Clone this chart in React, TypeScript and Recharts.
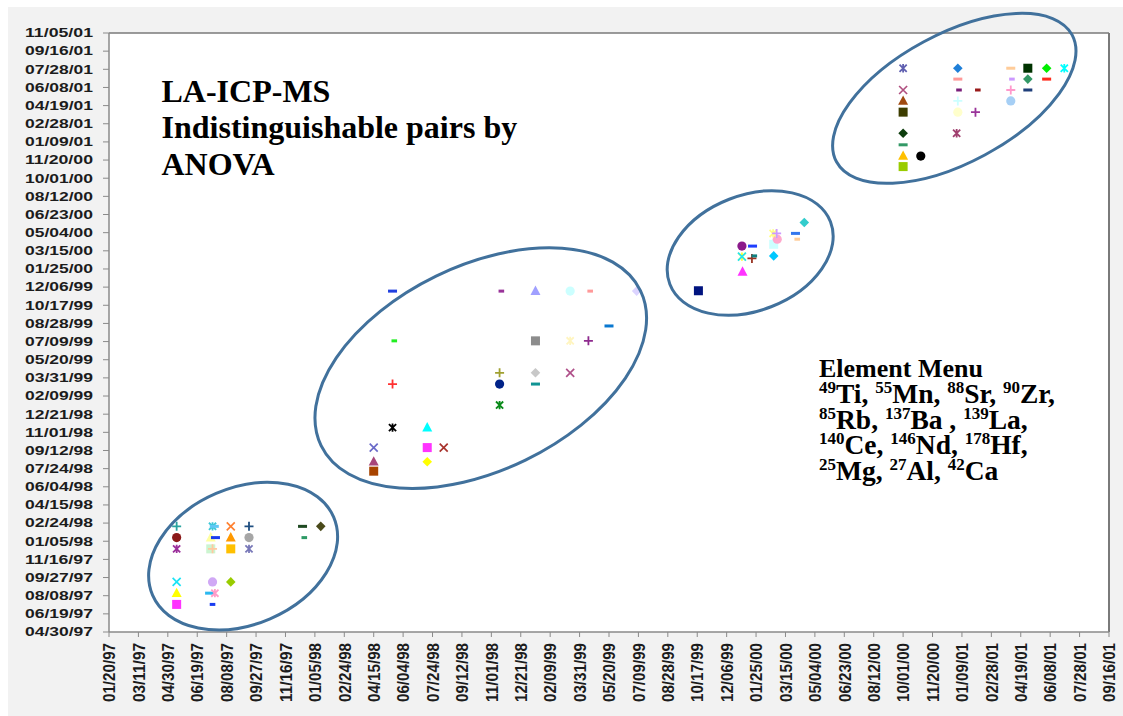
import React from "react";
import {
  ScatterChart,
  Scatter,
  XAxis,
  YAxis,
  CartesianGrid,
  ReferenceDot,
  ReferenceLine,
} from "recharts";

type Marker = "square" | "diamond" | "triangle" | "circle" | "x" | "star" | "plus" | "dash" | "minus";

// Axis tick labels (50-day steps)
const xTickLabels = [
  "01/20/97", "03/11/97", "04/30/97", "06/19/97", "08/08/97", "09/27/97", "11/16/97",
  "01/05/98", "02/24/98", "04/15/98", "06/04/98", "07/24/98", "09/12/98", "11/01/98",
  "12/21/98", "02/09/99", "03/31/99", "05/20/99", "07/09/99", "08/28/99", "10/17/99",
  "12/06/99", "01/25/00", "03/15/00", "05/04/00", "06/23/00", "08/12/00", "10/01/00",
  "11/20/00", "01/09/01", "02/28/01", "04/19/01", "06/08/01", "07/28/01", "09/16/01",
];
const yTickLabels = [
  "04/30/97", "06/19/97", "08/08/97", "09/27/97", "11/16/97", "01/05/98", "02/24/98",
  "04/15/98", "06/04/98", "07/24/98", "09/12/98", "11/01/98", "12/21/98", "02/09/99",
  "03/31/99", "05/20/99", "07/09/99", "08/28/99", "10/17/99", "12/06/99", "01/25/00",
  "03/15/00", "05/04/00", "06/23/00", "08/12/00", "10/01/00", "11/20/00", "01/09/01",
  "02/28/01", "04/19/01", "06/08/01", "07/28/01", "09/16/01", "11/05/01",
];

// Indistinguishable sample pairs: [sample A date, sample B date]
const pairs1997: [string, string][] = [
  ["05/15/97", "02/15/98"], ["05/15/97", "01/15/98"], ["05/15/97", "12/15/97"],
  ["05/15/97", "09/15/97"], ["05/15/97", "08/15/97"], ["05/15/97", "07/15/97"],
  ["07/15/97", "02/15/98"], ["07/18/97", "02/15/98"], ["07/12/97", "01/15/98"],
  ["07/20/97", "01/15/98"], ["07/12/97", "12/15/97"], ["07/15/97", "12/15/97"],
  ["07/15/97", "09/15/97"], ["07/10/97", "08/15/97"], ["07/19/97", "08/15/97"],
  ["07/15/97", "07/15/97"], ["08/15/97", "02/15/98"], ["08/15/97", "01/15/98"],
  ["08/15/97", "12/15/97"], ["08/15/97", "09/15/97"], ["09/15/97", "02/15/98"],
  ["09/15/97", "01/15/98"], ["09/15/97", "12/15/97"], ["12/15/97", "02/15/98"],
  ["12/18/97", "01/15/98"], ["01/15/98", "02/15/98"],
];
const pairs1998: [string, string][] = [
  ["05/17/98", "11/25/99"], ["11/18/98", "11/25/99"], ["01/15/99", "11/25/99"],
  ["03/15/99", "11/25/99"], ["04/18/99", "11/25/99"], ["07/06/99", "11/25/99"],
  ["05/20/99", "08/21/99"], ["05/20/98", "07/11/99"], ["01/15/99", "07/11/99"],
  ["03/15/99", "07/11/99"], ["04/15/99", "07/11/99"], ["05/17/98", "03/14/99"],
  ["11/15/98", "04/14/99"], ["01/15/99", "04/14/99"], ["03/15/99", "04/14/99"],
  ["11/15/98", "03/14/99"], ["01/15/99", "03/14/99"], ["11/15/98", "01/15/99"],
  ["05/17/98", "11/14/98"], ["07/15/98", "11/14/98"], ["04/15/98", "09/20/98"],
  ["07/15/98", "09/20/98"], ["08/12/98", "09/20/98"], ["04/15/98", "08/12/98"],
  ["07/15/98", "08/12/98"], ["04/15/98", "07/17/98"],
];
const pairs1999: [string, string][] = [
  ["10/19/99", "11/26/99"], ["01/02/00", "01/17/00"], ["01/01/00", "02/28/00"],
  ["01/01/00", "02/28/00"], ["01/18/00", "02/23/00"], ["01/22/00", "03/01/00"],
  ["01/01/00", "03/28/00"], ["01/19/00", "03/28/00"], ["02/24/00", "03/01/00"],
  ["02/24/00", "04/02/00"], ["03/01/00", "04/16/00"], ["02/23/00", "05/02/00"],
  ["02/29/00", "05/02/00"], ["04/01/00", "05/02/00"], ["04/04/00", "04/16/00"],
  ["04/16/00", "06/01/00"],
];
const pairs2000: [string, string][] = [
  ["10/01/00", "07/31/01"], ["01/02/01", "07/31/01"], ["04/02/01", "07/31/01"],
  ["05/01/01", "07/31/01"], ["06/02/01", "07/31/01"], ["07/02/01", "07/31/01"],
  ["01/02/01", "07/01/01"], ["04/04/01", "07/01/01"], ["05/01/01", "07/01/01"],
  ["06/02/01", "07/01/01"], ["10/01/00", "06/01/01"], ["01/04/01", "06/01/01"],
  ["02/05/01", "06/01/01"], ["04/02/01", "06/01/01"], ["05/01/01", "06/01/01"],
  ["10/01/00", "05/02/01"], ["01/02/01", "05/02/01"], ["04/02/01", "05/02/01"],
  ["10/01/00", "04/01/01"], ["01/02/01", "04/01/01"], ["02/01/01", "04/01/01"],
  ["10/01/00", "02/02/01"], ["12/31/00", "02/02/01"], ["10/01/00", "01/01/01"],
  ["10/01/00", "12/01/00"], ["10/31/00", "12/01/00"], ["10/01/00", "11/02/00"],
];

// Marker symbol and colour for each pair, in the same order
const markers1997: [Marker, string][] = [
  ["plus", "#2aa3a0"], ["circle", "#8b1a1a"], ["star", "#9b2f9b"],
  ["x", "#19e3f5"], ["triangle", "#ffff00"], ["square", "#ff33ff"],
  ["star", "#3cc8d8"], ["dash", "#5fc8f5"], ["triangle", "#ffffa0"],
  ["dash", "#1a3cf0"], ["square", "#ccf5d0"], ["plus", "#ffc8a0"],
  ["circle", "#d0a8f5"], ["dash", "#2ab8f0"], ["star", "#ff9cc8"],
  ["minus", "#1a3cf0"], ["x", "#ff8030"], ["triangle", "#ff9900"],
  ["square", "#ffc000"], ["diamond", "#99cc00"], ["plus", "#1f4e80"],
  ["circle", "#a6a6a6"], ["star", "#7878b8"], ["dash", "#1f4a22"],
  ["minus", "#2e9a66"], ["diamond", "#4a4a1a"],
];
const markers1998: [Marker, string][] = [
  ["dash", "#1f3fe0"], ["minus", "#993399"], ["triangle", "#a0a0ff"],
  ["circle", "#ccffff"], ["minus", "#ff9999"], ["diamond", "#dcd4ff"],
  ["dash", "#0a78d0"], ["minus", "#22ee22"], ["square", "#8c8c8c"],
  ["star", "#fff5c0"], ["plus", "#8e2a8e"], ["plus", "#ff3030"],
  ["plus", "#a0a030"], ["diamond", "#c8c8c8"], ["x", "#b0508a"],
  ["circle", "#002288"], ["dash", "#109494"], ["star", "#0a8a1a"],
  ["star", "#000000"], ["triangle", "#00ffff"], ["x", "#6a6ac8"],
  ["square", "#ff33ff"], ["x", "#a8332d"], ["triangle", "#a8457a"],
  ["diamond", "#ffff00"], ["square", "#a84400"],
];
const markers1999: [Marker, string][] = [
  ["square", "#00137f"], ["triangle", "#ff33ff"], ["star", "#ffff33"],
  ["x", "#22e5f0"], ["plus", "#993322"], ["minus", "#108080"],
  ["circle", "#8b1a8b"], ["dash", "#1f3fff"], ["diamond", "#00c8ff"],
  ["square", "#ccffff"], ["circle", "#ffa8cc"], ["star", "#ffff88"],
  ["plus", "#cc99ff"], ["dash", "#3377ee"], ["minus", "#ffcc99"],
  ["diamond", "#33cccc"],
];
const markers2000: [Marker, string][] = [
  ["star", "#5f5fb0"], ["diamond", "#1f7fd8"], ["dash", "#ffcc99"],
  ["square", "#003300"], ["diamond", "#00ee00"], ["star", "#00ffff"],
  ["dash", "#ff9999"], ["minus", "#cc99ff"], ["diamond", "#339966"],
  ["dash", "#ff2a1a"], ["x", "#b05080"], ["minus", "#7a1f7a"],
  ["minus", "#991a1a"], ["plus", "#ff99cc"], ["dash", "#1f3f7a"],
  ["triangle", "#a04a10"], ["plus", "#ccffff"], ["circle", "#a6cff5"],
  ["square", "#3d3d00"], ["circle", "#ffffcc"], ["plus", "#993399"],
  ["diamond", "#0d3d0d"], ["star", "#a0406f"], ["dash", "#339966"],
  ["triangle", "#ffc000"], ["circle", "#000000"], ["square", "#99cc00"],
];

// Centres of the grouping rings (dates) and their outline geometry
const ringCentres: [string, string][] = [
  ["09/05/97", "11/25/97"],
  ["10/14/98", "04/27/99"],
  ["01/15/00", "03/09/00"],
  ["12/27/00", "05/09/01"],
];
const ringGeometry = [
  { rx: 98.6, ry: 68.2, tilt: 23.3 },
  { rx: 177.5, ry: 102.3, tilt: 25.9 },
  { rx: 86.2, ry: 57.7, tilt: 21.3 },
  { rx: 133.8, ry: 64.3, tilt: 28.3 },
];

// Element list text: [mass number, symbol, trailing text]
const elementLines: [string, string, string][][] = [
  [["49", "Ti", ", "], ["55", "Mn", ", "], ["88", "Sr", ", "], ["90", "Zr", ","]],
  [["85", "Rb", ", "], ["137", "Ba", " , "], ["139", "La", ","]],
  [["140", "Ce", ", "], ["146", "Nd", ", "], ["178", "Hf", ","]],
  [["25", "Mg", ", "], ["27", "Al", ", "], ["42", "Ca", ""]],
];

const DAY0 = Date.UTC(1997, 0, 20);
function dayOf(s: string): number {
  const [m, d, y] = s.split("/").map(Number);
  const year = y < 50 ? 2000 + y : 1900 + y;
  return Math.round((Date.UTC(year, m - 1, d) - DAY0) / 86400000);
}

const xTicks = xTickLabels.map(dayOf);
const yTicks = yTickLabels.map(dayOf);
const xLabelOf = new Map(xTickLabels.map((l) => [dayOf(l), l] as [number, string]));
const yLabelOf = new Map(yTickLabels.map((l) => [dayOf(l), l] as [number, string]));

function buildSeries(pairs: [string, string][], markers: [Marker, string][]) {
  return pairs.map(([a, b], i) => ({
    x: dayOf(a),
    y: dayOf(b),
    marker: markers[i][0],
    color: markers[i][1],
  }));
}

const groups = [
  buildSeries(pairs1997, markers1997),
  buildSeries(pairs1998, markers1998),
  buildSeries(pairs1999, markers1999),
  buildSeries(pairs2000, markers2000),
];

function drawMarker(props: any) {
  const { cx, cy, payload } = props;
  if (cx == null || cy == null) return <g />;
  const c = payload.color as string;
  switch (payload.marker as Marker) {
    case "square":
      return <rect x={cx - 4.5} y={cy - 4.5} width={9} height={9} fill={c} />;
    case "circle":
      return <circle cx={cx} cy={cy} r={4.6} fill={c} />;
    case "triangle":
      return <polygon points={`${cx},${cy - 5.5} ${cx + 5},${cy + 3.8} ${cx - 5},${cy + 3.8}`} fill={c} />;
    case "diamond":
      return <polygon points={`${cx},${cy - 4.8} ${cx + 4.8},${cy} ${cx},${cy + 4.8} ${cx - 4.8},${cy}`} fill={c} />;
    case "x":
      return (
        <path
          d={`M${cx - 4},${cy - 4}L${cx + 4},${cy + 4}M${cx + 4},${cy - 4}L${cx - 4},${cy + 4}`}
          stroke={c}
          strokeWidth={1.7}
          fill="none"
        />
      );
    case "star":
      return (
        <path
          d={`M${cx - 3.6},${cy - 3.6}L${cx + 3.6},${cy + 3.6}M${cx + 3.6},${cy - 3.6}L${cx - 3.6},${cy + 3.6}M${cx},${cy - 4.2}L${cx},${cy + 4.2}`}
          stroke={c}
          strokeWidth={1.8}
          fill="none"
        />
      );
    case "plus":
      return (
        <path
          d={`M${cx - 4.5},${cy}L${cx + 4.5},${cy}M${cx},${cy - 4.5}L${cx},${cy + 4.5}`}
          stroke={c}
          strokeWidth={1.8}
          fill="none"
        />
      );
    case "dash":
      return <rect x={cx - 4.5} y={cy - 1.5} width={9} height={3} fill={c} />;
    case "minus":
      return <rect x={cx - 2.8} y={cy - 1.5} width={5.6} height={3} fill={c} />;
    default:
      return <g />;
  }
}

const TICK_FONT = "'Liberation Sans', Arial, Helvetica, sans-serif";
const SERIF = "'Liberation Serif', 'Times New Roman', Times, serif";

function XTick(props: any) {
  const { x, y, payload } = props;
  const label = xLabelOf.get(payload.value) ?? "";
  return (
    <text
      x={x + 0.5}
      y={y}
      dx={-6}
      dy="0.36em"
      transform={`rotate(-90 ${x + 0.5} ${y})`}
      textAnchor="end"
      fontFamily={TICK_FONT}
      fontWeight="bold"
      fontSize={16}
      fill="#1c1c1c"
      textLength={59}
      lengthAdjust="spacingAndGlyphs"
    >
      {label}
    </text>
  );
}

function YTick(props: any) {
  const { x, y, payload } = props;
  const label = yLabelOf.get(payload.value) ?? "";
  return (
    <text
      x={x - 10}
      y={y}
      dy="0.36em"
      textAnchor="end"
      fontFamily={TICK_FONT}
      fontWeight="bold"
      fontSize={12}
      fill="#1c1c1c"
      textLength={68}
      lengthAdjust="spacingAndGlyphs"
    >
      {label}
    </text>
  );
}

function ElementLine({ y, items }: { y: number; items: [string, string, string][] }) {
  const parts: React.ReactNode[] = [];
  items.forEach(([mass, sym, tail], i) => {
    parts.push(
      <tspan key={`m${i}`} fontSize={17} dy={-10}>
        {mass}
      </tspan>
    );
    parts.push(
      <tspan key={`s${i}`} fontSize={27.5} dy={10}>
        {sym + tail}
      </tspan>
    );
  });
  return (
    <text x={819} y={y} fontFamily={SERIF} fontWeight="bold" fill="#000" style={{ whiteSpace: "pre" }}>
      {parts}
    </text>
  );
}

export default function App() {
  return (
    <div style={{ position: "relative", width: 1123, height: 716, background: "#ffffff", overflow: "hidden" }}>
      <style>{"html,body{margin:0;padding:0;overflow:hidden;}"}</style>
      <div style={{ position: "absolute", left: 8, top: 7, width: 1115, height: 709, background: "#f2f2f2" }} />
      <div style={{ position: "absolute", left: 0, top: 0 }}>
        <ScatterChart width={1123} height={716} margin={{ top: 33, right: 14, bottom: 4, left: 9 }}>
          <CartesianGrid horizontal={false} vertical={false} fill="#ffffff" stroke="none" />
          <XAxis
            type="number"
            dataKey="x"
            domain={[0, 1700]}
            ticks={xTicks}
            interval={0}
            allowDataOverflow
            height={80}
            tickSize={5}
            tickMargin={0}
            axisLine={{ stroke: "#8a8a8a", strokeWidth: 1.5 }}
            tickLine={{ stroke: "#8a8a8a" }}
            tick={<XTick />}
          />
          <YAxis
            type="number"
            dataKey="y"
            domain={[100, 1750]}
            ticks={yTicks}
            interval={0}
            allowDataOverflow
            width={100}
            tickSize={6}
            tickMargin={0}
            axisLine={{ stroke: "#8a8a8a", strokeWidth: 1.5 }}
            tickLine={{ stroke: "#8a8a8a" }}
            tick={<YTick />}
          />
          <ReferenceLine y={1750} stroke="#7a7a7a" strokeWidth={1.5} ifOverflow="visible" />
          <ReferenceLine x={1700} stroke="#7a7a7a" strokeWidth={2} ifOverflow="visible" />
          {groups.map((g, i) => (
            <Scatter key={i} data={g} shape={drawMarker} isAnimationActive={false} />
          ))}
          {ringCentres.map(([a, b], i) => {
            const geo = ringGeometry[i];
            return (
              <ReferenceDot
                key={`ring${i}`}
                x={dayOf(a)}
                y={dayOf(b)}
                ifOverflow="visible"
                shape={(p: any) => (
                  <ellipse
                    cx={p.cx}
                    cy={p.cy}
                    rx={geo.rx}
                    ry={geo.ry}
                    transform={`rotate(${-geo.tilt} ${p.cx} ${p.cy})`}
                    fill="none"
                    stroke="#41719c"
                    strokeWidth={3}
                  />
                )}
              />
            );
          })}
        </ScatterChart>
      </div>
      <svg
        width={1123}
        height={716}
        style={{ position: "absolute", left: 0, top: 0, pointerEvents: "none" }}
      >
        <text fontFamily={SERIF} fontWeight="bold" fontSize={32} fill="#000">
          <tspan x={161.5} y={101.7}>LA-ICP-MS</tspan>
          <tspan x={161.5} y={138.4}>Indistinguishable pairs by</tspan>
          <tspan x={161.5} y={175}>ANOVA</tspan>
        </text>
        <text x={819} y={376.7} fontFamily={SERIF} fontWeight="bold" fontSize={26} fill="#000">
          Element Menu
        </text>
        {elementLines.map((items, i) => (
          <ElementLine key={i} y={403 + i * 25.5} items={items} />
        ))}
      </svg>
    </div>
  );
}
